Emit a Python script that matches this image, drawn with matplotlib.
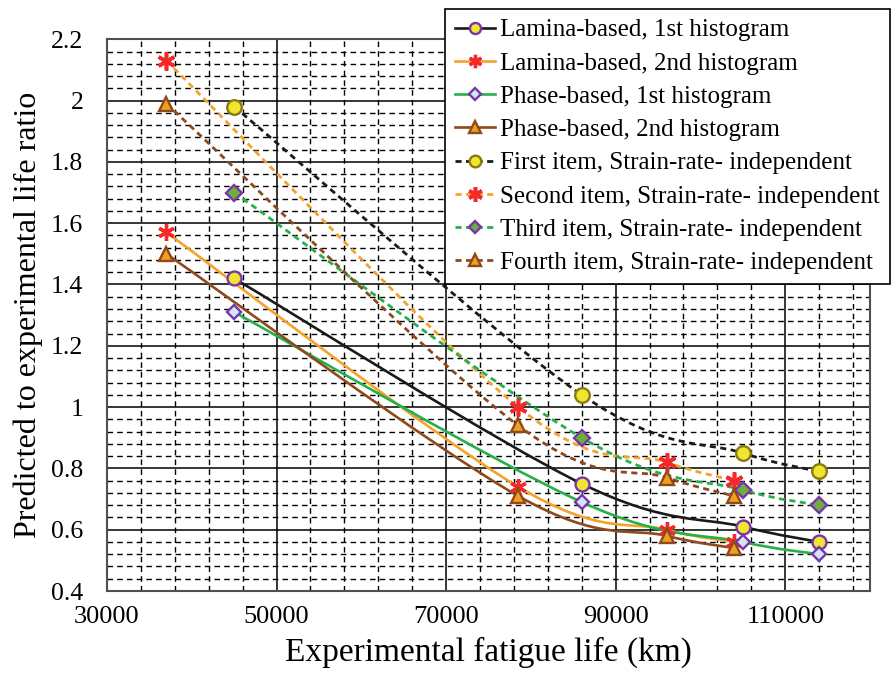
import numpy as np
import matplotlib
matplotlib.use("Agg")
import matplotlib.pyplot as plt
from matplotlib.path import Path
from matplotlib.patches import PathPatch
from matplotlib.lines import Line2D

plt.rcParams["font.family"] = ["Liberation Serif", "DejaVu Serif"]

# x positions (km)
x_a = [45000, 86000, 105000, 114000]
x_b = [37000, 78500, 96000, 104000]

# predicted / experimental ratios
lamina_1st = [1.42, 0.75, 0.61, 0.56]
lamina_2nd = [1.57, 0.74, 0.60, 0.56]
phase_1st = [1.31, 0.69, 0.56, 0.52]
phase_2nd = [1.50, 0.71, 0.58, 0.54]
first_sri = [1.98, 1.04, 0.85, 0.79]
second_sri = [2.13, 1.00, 0.82, 0.76]
third_sri = [1.70, 0.90, 0.73, 0.68]
fourth_sri = [1.99, 0.94, 0.77, 0.71]

labels = ["Lamina-based, 1st histogram",
          "Lamina-based, 2nd histogram",
          "Phase-based, 1st histogram",
          "Phase-based, 2nd histogram",
          "First item, Strain-rate- independent",
          "Second item, Strain-rate- independent",
          "Third item, Strain-rate- independent",
          "Fourth item, Strain-rate- independent"]

x_ticks = [30000, 50000, 70000, 90000, 110000]
y_ticks = [0.4, 0.6, 0.8, 1.0, 1.2, 1.4, 1.6, 1.8, 2.0, 2.2]

BLACK = "#1a1a1a"
ORANGE = "#F5A22A"
GREEN = "#27B04A"
BROWN = "#8E4A1C"
RED = "#F42A2A"
PURPLE = "#7A35A8"
YELLOW = "#F0E632"

star = (6, 2, 0)
# (x, y, line colour, dashed, marker, size, face, edge, mew)
series = [
    (x_a, lamina_1st, BLACK, False, "o", 10, YELLOW, PURPLE, 1.7),
    (x_b, lamina_2nd, ORANGE, False, star, 12, RED, RED, 2.4),
    (x_a, phase_1st, GREEN, False, "D", 7.5, "#D3E6F7", PURPLE, 1.7),
    (x_b, phase_2nd, BROWN, False, "^", 10, "#F0A01E", BROWN, 1.7),
    (x_a, first_sri, BLACK, True, "o", 10.5, YELLOW, "#8A7A10", 1.7),
    (x_b, second_sri, ORANGE, True, star, 13, RED, RED, 2.6),
    (x_a, third_sri, GREEN, True, "D", 8, "#6DAE3C", PURPLE, 1.7),
    (x_b, fourth_sri, BROWN, True, "^", 10, "#F0A01E", BROWN, 1.7),
]


def smooth_path(xs, ys):
    pts = np.column_stack([xs, ys]).astype(float)
    n = len(pts)
    verts = [pts[0]]
    codes = [Path.MOVETO]
    for i in range(n - 1):
        p0 = pts[i - 1] if i > 0 else pts[i]
        p1, p2 = pts[i], pts[i + 1]
        p3 = pts[i + 2] if i + 2 < n else pts[i + 1]
        verts += [p1 + (p2 - p0) / 6, p2 - (p3 - p1) / 6, p2]
        codes += [Path.CURVE4] * 3
    return Path(verts, codes)


fig = plt.figure(figsize=(8.96, 6.77), dpi=100)
ax = fig.add_axes([0.1194, 0.127, 0.8516, 0.815])

handles = []
for xs, ys, col, dashed, mk, ms, fc, ec, mew in series:
    ls = (0, (2.2, 1.6)) if dashed else "-"
    lw = 2.0 if dashed else 1.9
    ax.add_patch(PathPatch(smooth_path(xs, ys), fill=False, edgecolor=col,
                           lw=lw, linestyle=ls, zorder=3))
    ax.plot(xs, ys, ls="none", marker=mk, ms=ms, mfc=fc, mec=ec, mew=mew, zorder=4)
    handles.append(Line2D([], [], color=col, lw=lw, ls=ls, marker=mk,
                          ms=ms * 0.8, mfc=fc, mec=ec, mew=mew))

ax.set_xlim(30000, 120000)
ax.set_ylim(0.4, 2.2)
ax.set_xticks(x_ticks)
ax.set_yticks(y_ticks)
ax.set_xticks(np.arange(30000, 120001, 4000), minor=True)
ax.set_yticks(np.arange(0.4, 2.2001, 0.04), minor=True)
ax.set_yticklabels(["%g" % v for v in y_ticks])
ax.set_axisbelow(True)
ax.grid(which="major", color="black", lw=1.1)
ax.grid(which="minor", color="black", lw=1.0, ls=(0, (4, 3)))
ax.tick_params(which="both", length=0)
ax.tick_params(axis="x", labelsize=19, pad=11)
ax.tick_params(axis="y", labelsize=18.5, pad=17)
for s in ax.spines.values():
    s.set_color("#505050")
    s.set_linewidth(1.5)

ax.set_xlabel("Experimental fatigue life (km)", fontsize=24, labelpad=6)
ax.set_ylabel("Predicted to experimental life ratio", fontsize=23, labelpad=6)

leg = ax.legend(handles, labels, loc="upper left", bbox_to_anchor=(0.497, 0.987),
                bbox_transform=fig.transFigure, borderaxespad=0, fontsize=18,
                fancybox=False, edgecolor="black", framealpha=1,
                handlelength=1.6, handletextpad=0.2, labelspacing=0.43,
                borderpad=0.4)
leg.get_frame().set_linewidth(1.2)
leg.set_zorder(10)

fig.savefig("out.png", dpi=100)
